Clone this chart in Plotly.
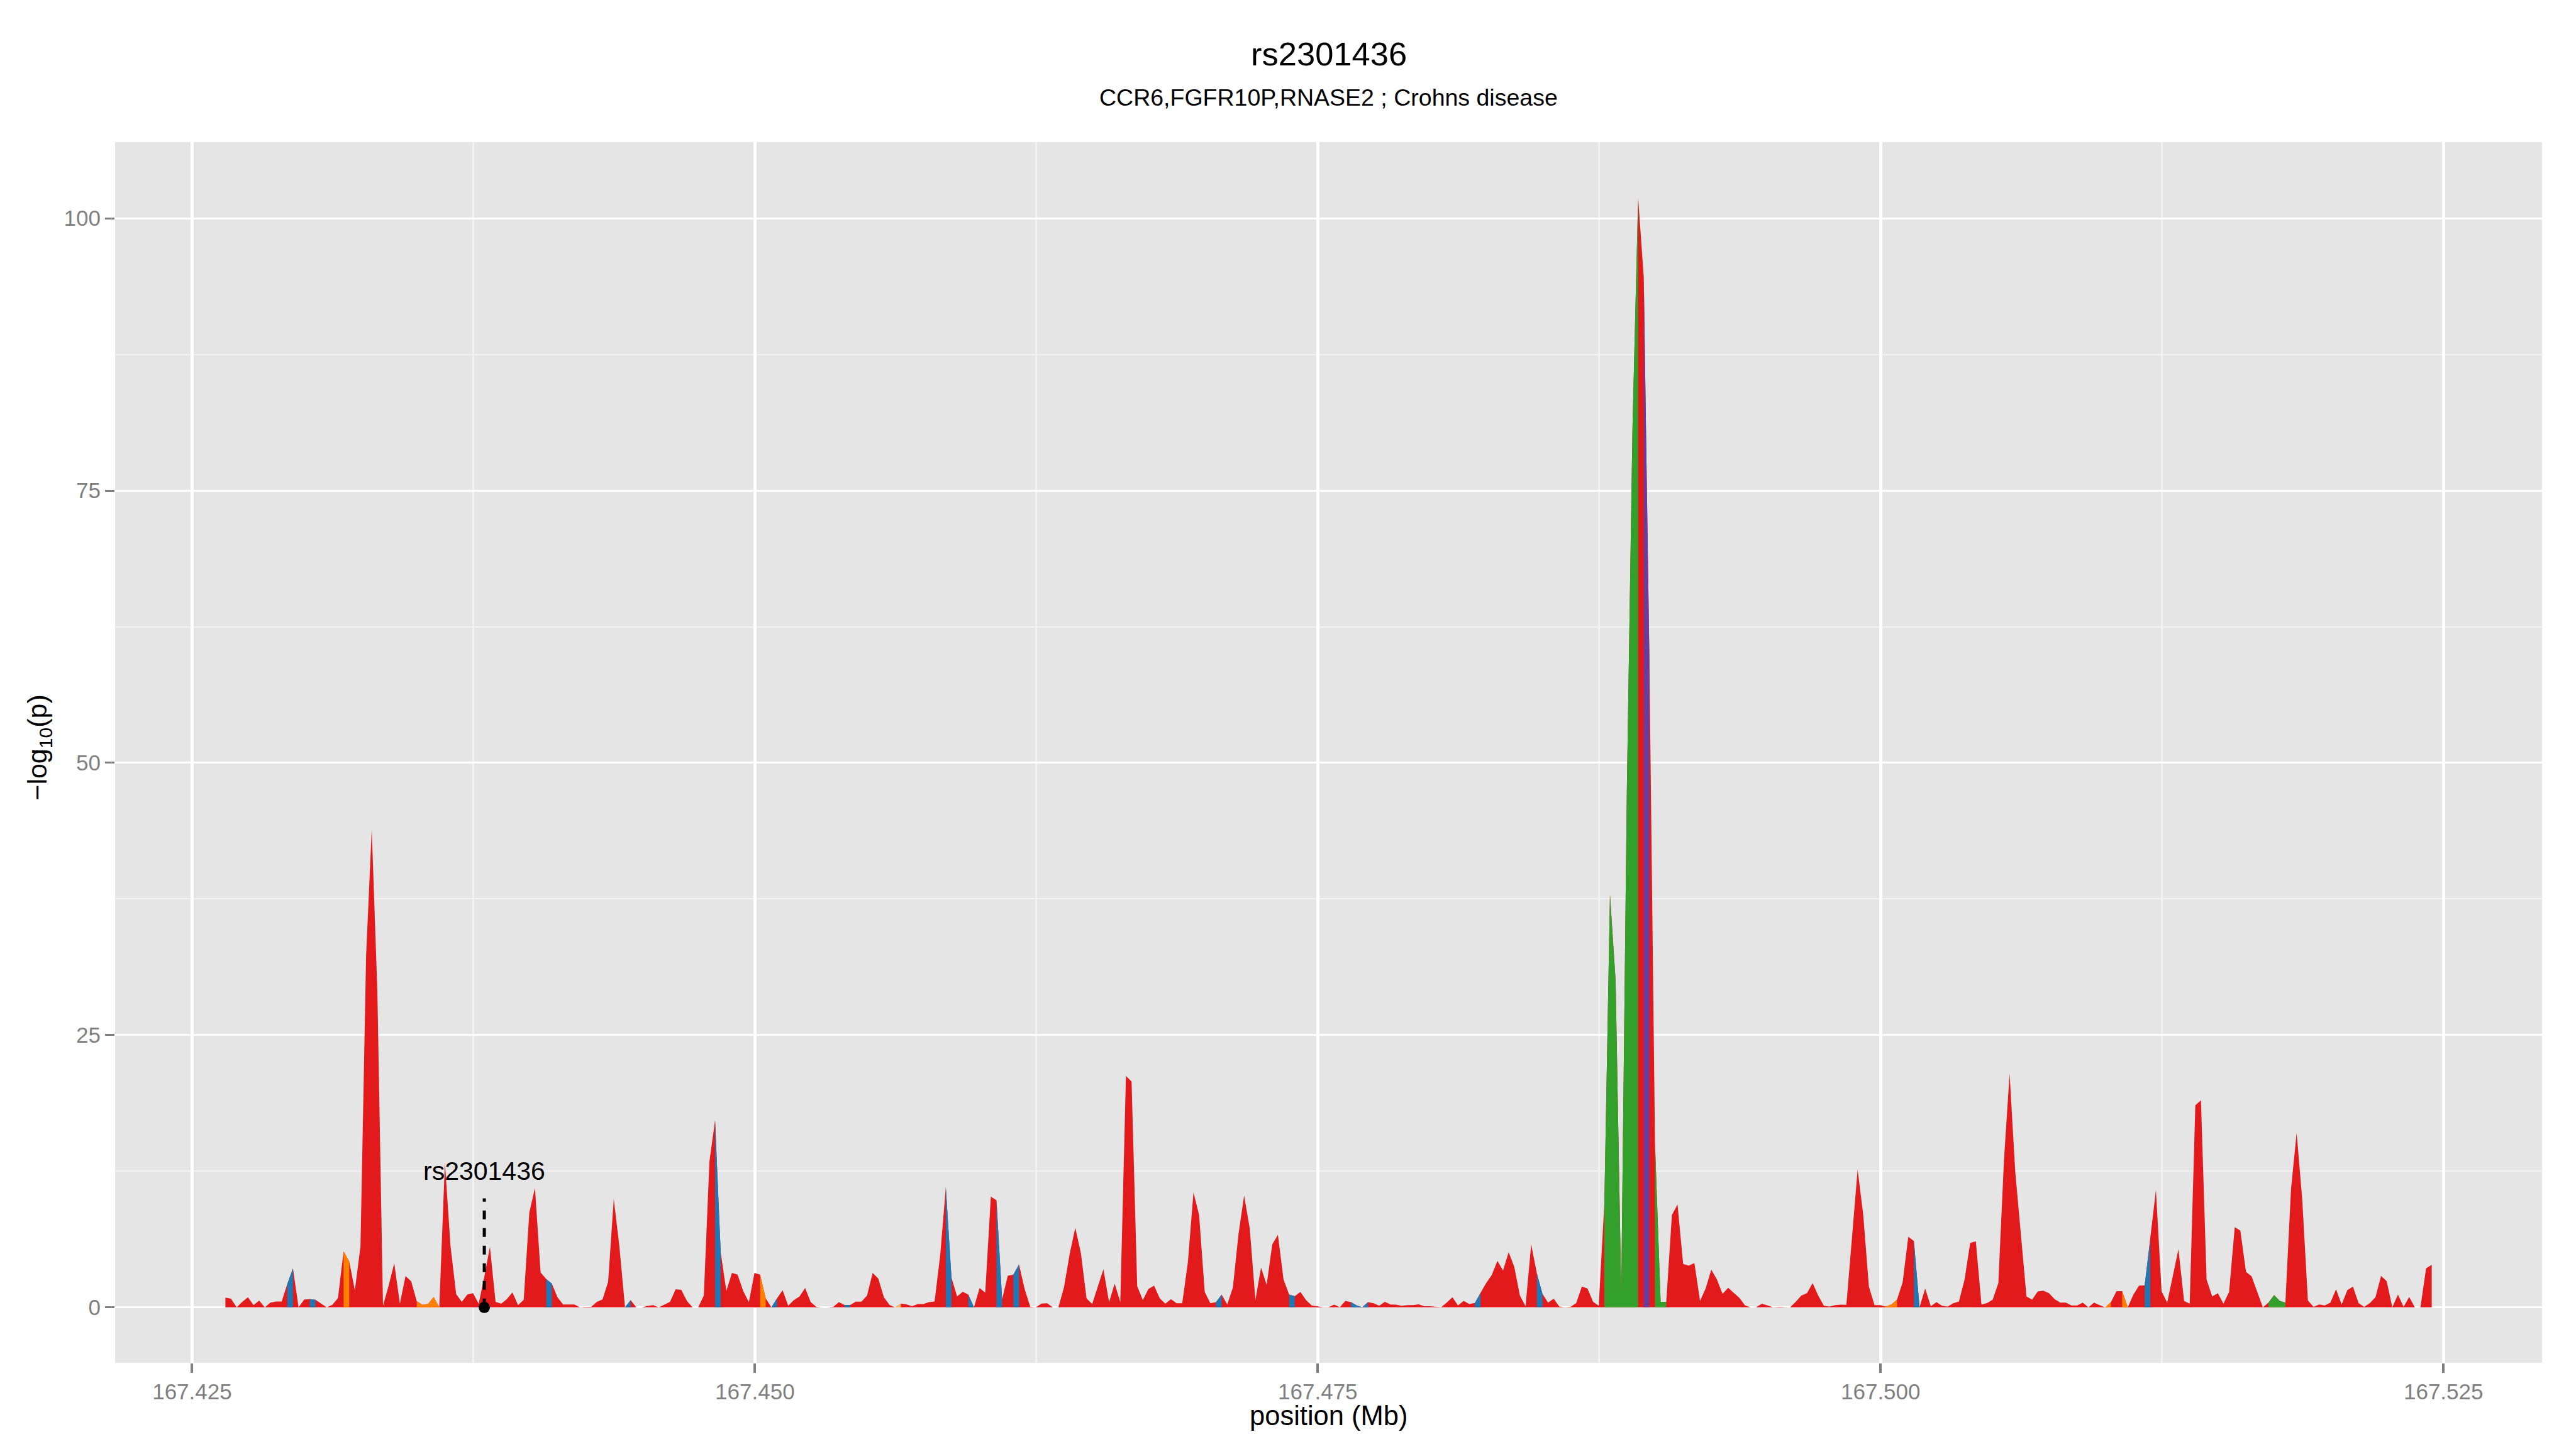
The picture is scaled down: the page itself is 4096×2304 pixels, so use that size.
import plotly.graph_objects as go

# ---------------- data ----------------
# SNP positions lie on a regular 0.25 kb grid
pos_start_mb = 167.42648
pos_step_mb = 0.00025

neglog10p = [
    0.89, 0.79, 0.0, 0.5, 0.92, 0.2, 0.62, 0.0, 0.43, 0.54,
    0.53, 2.15, 3.58, 0.0, 0.72, 0.75, 0.7, 0.34, 0.0, 0.23,
    0.85, 5.14, 4.22, 1.56, 5.6, 32.3, 43.9, 29.0, 0.15, 2.0,
    4.04, 0.34, 2.87, 2.4, 0.56, 0.23, 0.31, 0.95, 0.0, 13.3,
    5.6, 1.21, 0.51, 1.18, 1.3, 0.34, 2.8, 5.56, 0.5, 0.34,
    0.75, 1.38, 0.21, 0.7, 8.7, 10.96, 3.2, 2.6, 2.18, 0.92,
    0.26, 0.26, 0.26, 0.0, 0.05, 0.05, 0.5, 0.72, 2.35, 9.95,
    5.6, 0.0, 0.67, 0.0, 0.0, 0.13, 0.2, 0.0, 0.26, 0.5,
    1.66, 1.6, 0.6, 0.0, 0.0, 1.08, 13.4, 17.2, 5.06, 1.5,
    3.16, 3.0, 1.5, 0.48, 3.16, 3.0, 0.83, 0.0, 0.83, 1.57,
    0.14, 0.66, 1.0, 1.78, 0.48, 0.05, 0.0, 0.0, 0.05, 0.48,
    0.22, 0.22, 0.52, 0.52, 1.09, 3.16, 2.64, 0.92, 0.22, 0.0,
    0.35, 0.28, 0.1, 0.31, 0.31, 0.48, 0.54, 4.8, 11.05, 2.73,
    1.0, 1.43, 1.17, 0.0, 1.78, 1.35, 10.16, 9.84, 0.74, 2.9,
    3.0, 3.94, 1.69, 0.05, 0.0, 0.35, 0.38, 0.0, 0.0, 1.87,
    4.89, 7.3, 4.97, 0.83, 0.31, 1.87, 3.5, 0.48, 2.18, 0.48,
    21.26, 20.74, 1.95, 0.66, 1.69, 1.99, 0.84, 0.34, 0.75, 0.38,
    0.38, 4.12, 10.55, 8.47, 1.41, 0.38, 0.48, 1.17, 0.26, 1.82,
    6.75, 10.27, 7.24, 0.67, 3.66, 2.07, 5.79, 6.66, 2.56, 1.17,
    1.03, 1.41, 0.67, 0.18, 0.1, 0.02, 0.02, 0.25, 0.02, 0.59,
    0.48, 0.18, 0.02, 0.48, 0.38, 0.15, 0.51, 0.26, 0.25, 0.15,
    0.21, 0.21, 0.28, 0.1, 0.1, 0.08, 0.02, 0.43, 0.92, 0.18,
    0.59, 0.31, 0.4, 1.33, 2.23, 2.97, 4.28, 3.38, 5.07, 3.71,
    1.08, 0.1, 5.79, 3.13, 1.25, 0.43, 0.8, 0.07, 0.0, 0.05,
    0.39, 1.9, 1.74, 0.51, 0.15, 9.5, 37.9, 30.0, 1.4, 47.6,
    80.8, 101.9, 94.6, 59.6, 15.0, 0.5, 0.5, 8.47, 9.45, 3.99,
    3.82, 4.07, 0.59, 1.74, 3.46, 2.56, 1.25, 1.79, 1.33, 0.87,
    0.18, 0.0, 0.02, 0.34, 0.18, 0.0, 0.05, 0.02, 0.0, 0.5,
    1.08, 1.3, 2.23, 1.08, 0.15, 0.07, 0.21, 0.25, 0.23, 6.42,
    12.65, 8.47, 1.9, 0.21, 0.21, 0.08, 0.26, 0.71, 2.31, 6.48,
    6.09, 0.02, 1.74, 0.1, 0.48, 0.15, 0.07, 0.38, 0.54, 2.56,
    5.92, 6.06, 0.26, 0.39, 0.71, 2.23, 13.5, 21.47, 12.49, 6.75,
    1.0, 0.71, 1.46, 1.53, 1.3, 0.75, 0.43, 0.43, 0.18, 0.18,
    0.43, 0.0, 0.43, 0.21, 0.0, 0.48, 1.49, 1.49, 0.0, 1.17,
    1.99, 2.02, 6.25, 10.77, 1.49, 0.43, 2.89, 5.35, 0.59, 0.34,
    18.56, 19.02, 2.56, 1.0, 1.3, 0.34, 1.41, 7.37, 7.04, 3.27,
    2.84, 1.41, 0.0, 0.43, 1.13, 0.59, 0.43, 10.85, 16.02, 9.86,
    0.64, 0.05, 0.26, 0.18, 0.43, 1.66, 0.26, 1.58, 1.9, 0.39,
    0.05, 0.39, 0.92, 2.89, 2.4, 0.0, 1.17, 0.05, 0.95, 0.0,
    0.02, 3.58, 3.92,
]

positions = [round(pos_start_mb + pos_step_mb * i, 5) for i in range(len(neglog10p))]

# colour class of the stretch that starts at each listed SNP index (default: red)
blue_segments = [11, 15, 57, 71, 87, 97, 110, 128, 132, 137, 140, 176, 189,
                 200, 201, 202, 222, 233, 300, 341]
orange_segments = [21, 34, 35, 36, 37, 95, 238, 295, 296, 334, 337]
lightorange_segments = [119]
green_segments = [245, 246, 247, 248, 249, 250, 254, 255, 363, 364, 365]
purple_segments = [252]

snp_label = "rs2301436"
snp_pos = 167.43798
snp_stem_top = 10
snp_label_y = 12.5

title_text = "rs2301436"
subtitle_text = "CCR6,FGFR10P,RNASE2 ; Crohns disease"

x_ticks = [167.425, 167.450, 167.475, 167.500, 167.525]
x_ticklabels = ["167.425", "167.450", "167.475", "167.500", "167.525"]
x_minor = [167.4375, 167.4625, 167.4875, 167.5125]
y_ticks = [0, 25, 50, 75, 100]
y_ticklabels = ["0", "25", "50", "75", "100"]
y_minor = [12.5, 37.5, 62.5, 87.5]

# ---------------- style ----------------
RED = "#E31A1C"
COLS = {
    "blue": "#1F78B4",
    "orange": "#FF7F00",
    "lightorange": "#FDBF6F",
    "green": "#33A02C",
    "purple": "#6A3D9A",
}
FONT = "Liberation Sans, Arial, Helvetica, sans-serif"
GREY = "#7F7F7F"

fig = go.Figure()

# base (red) area
fig.add_trace(go.Scatter(
    x=positions, y=neglog10p, mode="lines", fill="tozeroy",
    fillcolor=RED, line=dict(width=0, color=RED), hoverinfo="skip",
    showlegend=False,
))


def runs(idx):
    idx = sorted(idx)
    out = []
    for i in idx:
        if out and out[-1][1] == i - 1:
            out[-1][1] = i
        else:
            out.append([i, i])
    return out


for name, segs in [("blue", blue_segments), ("orange", orange_segments),
                   ("lightorange", lightorange_segments),
                   ("green", green_segments), ("purple", purple_segments)]:
    xs, ys = [], []
    for a, b in runs(segs):
        xs += [positions[a]] + positions[a:b + 2] + [positions[b + 1], None]
        ys += [0] + neglog10p[a:b + 2] + [0, None]
    fig.add_trace(go.Scatter(
        x=xs, y=ys, mode="lines", fill="toself", fillcolor=COLS[name],
        line=dict(width=0, color=COLS[name]), hoverinfo="skip",
        showlegend=False,
    ))

# lead SNP marker
fig.add_trace(go.Scatter(
    x=[snp_pos, snp_pos], y=[0, snp_stem_top], mode="lines",
    line=dict(color="black", width=5, dash="14px,14px"),
    hoverinfo="skip", showlegend=False,
))
fig.add_trace(go.Scatter(
    x=[snp_pos], y=[0], mode="markers",
    marker=dict(color="black", size=18), hoverinfo="skip", showlegend=False,
))

xmin, xmax = min(positions), max(positions)
xpad = (xmax - xmin) * 0.05
ymax = max(neglog10p)
ypad = ymax * 0.05

fig.update_layout(
    width=4096, height=2304,
    margin=dict(l=183, r=54, t=226, b=137),
    paper_bgcolor="white", plot_bgcolor="#E5E5E5",
    font=dict(family=FONT, color="black"),
    xaxis=dict(
        range=[xmin - xpad, xmax + xpad],
        tickmode="array", tickvals=x_ticks, ticktext=x_ticklabels,
        ticks="outside", ticklen=15, tickwidth=4, tickcolor=GREY,
        tickfont=dict(size=35, color=GREY, family=FONT),
        showgrid=True, gridcolor="white", gridwidth=4.5,
        zeroline=False, showline=False,
        minor=dict(tickmode="array", tickvals=x_minor, showgrid=True,
                   gridcolor="#F2F2F2", gridwidth=2.5, ticks=""),
    ),
    yaxis=dict(
        range=[-ypad, ymax + ypad],
        tickmode="array", tickvals=y_ticks, ticktext=y_ticklabels,
        ticks="outside", ticklen=15, tickwidth=3, tickcolor=GREY,
        tickfont=dict(size=35, color=GREY, family=FONT),
        showgrid=True, gridcolor="white", gridwidth=3,
        zeroline=False, showline=False,
        minor=dict(tickmode="array", tickvals=y_minor, showgrid=True,
                   gridcolor="#F2F2F2", gridwidth=1.8, ticks=""),
    ),
    annotations=[
        dict(text=title_text, x=0.5, xref="paper", y=1, yref="paper",
             yshift=141, yanchor="middle", showarrow=False,
             font=dict(size=52.5, color="black", family=FONT)),
        dict(text=subtitle_text, x=0.5, xref="paper", y=1, yref="paper",
             yshift=71.5, yanchor="middle", showarrow=False,
             font=dict(size=37.5, color="black", family=FONT)),
        dict(text="position (Mb)", x=0.5, xref="paper", y=0, yref="paper",
             yshift=-84, yanchor="middle", showarrow=False,
             font=dict(size=43.5, color="black", family=FONT)),
        dict(text="\u2212log<sub>10</sub>(p)", x=0, xref="paper", y=0.504,
             yref="paper", xshift=-121, xanchor="center", yanchor="middle",
             textangle=-90, showarrow=False,
             font=dict(size=43, color="black", family=FONT)),
        dict(text=snp_label, x=snp_pos, xref="x", y=snp_label_y, yref="y",
             xanchor="center", yanchor="middle", showarrow=False,
             font=dict(size=41, color="black", family=FONT)),
    ],
)

fig.write_html("out.html", config={"displayModeBar": False},
               post_script="document.body.style.margin='0';")
